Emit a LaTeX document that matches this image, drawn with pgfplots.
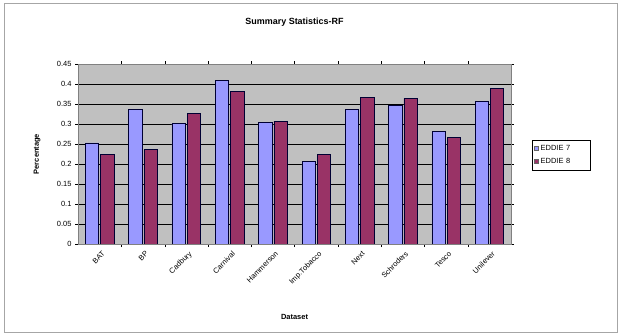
\documentclass[border=0pt]{standalone}
\usepackage{pgfplots}
\pgfplotsset{compat=1.18}
\usepackage{fontspec}
\setmainfont{Liberation Sans}
\definecolor{eddieA}{HTML}{9999FF}
\definecolor{eddieB}{HTML}{993366}
\definecolor{plotbg}{HTML}{C0C0C0}
\begin{document}
\begin{tikzpicture}
\path (0,0) rectangle (621bp,335bp);
\draw[gray!70, line width=0.8bp] (4bp,3bp) rectangle (617bp,332bp);
\begin{axis}[
  at={(78bp,91bp)}, anchor=south west,
  scale only axis, width=433bp, height=180bp,
  /pgf/number format/assume math mode=true,
  ybar, bar width=13.3bp,
  xmin=-0.5, xmax=9.5, ymin=0, ymax=0.45,
  ytick={0,0.05,...,0.45},
  yticklabel style={/pgf/number format/fixed, /pgf/number format/precision=2, font=\fontsize{7.5}{8}\selectfont},
  scaled y ticks=false,
  xtick={0,...,9},
  xticklabels={BAT,BP,Cadbury,Carnival,Hammerson,Imp.Tobacco,Next,Schroders,Tesco,Unilever},
  xticklabel style={rotate=45, anchor=north east, font=\fontsize{7.5}{8}\selectfont, inner sep=1bp, yshift=-3bp},
  major x tick style={draw=none},
  minor xtick={0.5,1.5,...,8.5},
  minor x tick style={black},
  tick align=outside,
  tick style={black},
  major tick length=3bp, minor tick length=3bp,
  ymajorgrids, grid style={black, line width=0.6bp},
  axis background/.style={fill=plotbg},
  axis line style={gray},
  every axis plot/.append style={draw=black!80!blue, line width=0.5bp},
  title={\textbf{Summary Statistics-RF}},
  title style={at={(0.5,1.2)}, anchor=center, font=\fontsize{9}{10}\selectfont},
  xlabel={\textbf{Dataset}},
  xlabel style={at={(0.5,-0.405)}, anchor=center, font=\fontsize{7.5}{8}\selectfont},
  ylabel={\textbf{Percentage}},
  ylabel style={at={(-0.0947,0.5)}, anchor=center, rotate=0, font=\fontsize{7.5}{8}\selectfont},
  legend style={at={(1.0485,0.494)}, anchor=west, draw=black, font=\fontsize{7.5}{8}\selectfont, row sep=2bp, inner xsep=2bp, inner ysep=3bp, text width=46bp},
  legend image code/.code={\draw[#1, draw=black!60] (0bp,-2bp) rectangle (4bp,2bp);},
]
\addplot[fill=eddieA] coordinates {(0,0.253) (1,0.337) (2,0.302) (3,0.410) (4,0.305) (5,0.206) (6,0.336) (7,0.347) (8,0.281) (9,0.357)};
\addplot[fill=eddieB] coordinates {(0,0.224) (1,0.236) (2,0.327) (3,0.381) (4,0.307) (5,0.224) (6,0.367) (7,0.364) (8,0.266) (9,0.390)};
\legend{EDDIE 7, EDDIE 8}
\end{axis}
\end{tikzpicture}
\end{document}
